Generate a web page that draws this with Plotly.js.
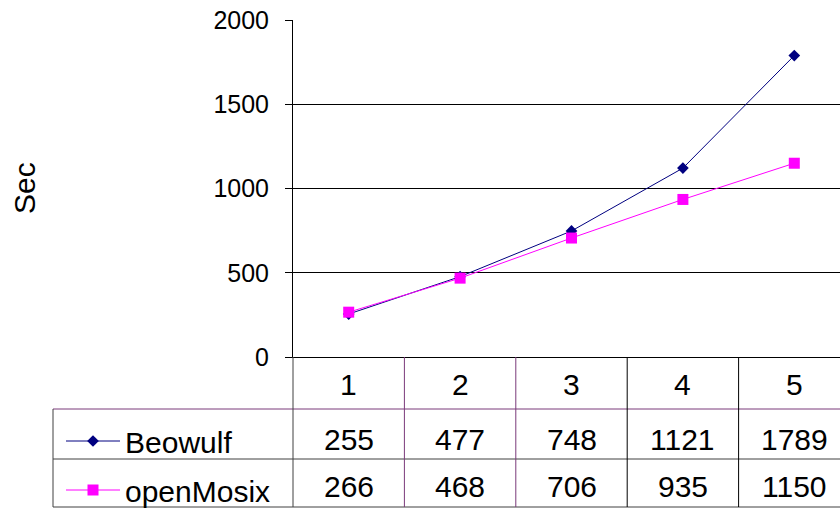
<!DOCTYPE html>
<html><head><meta charset="utf-8">
<script src="https://cdn.plot.ly/plotly-3.0.1.min.js"></script>
<style>html,body{margin:0;padding:0;background:#fff}</style>
</head><body><div id="chart" style="width:840px;height:510px"></div>
<script>
const categories = ['1','2','3','4','5'];
const seriesNames = ['Beowulf','openMosix'];
const beowulf = [255,477,748,1121,1789];
const openMosix = [266,468,706,935,1150];
const yTicks = [0,500,1000,1500,2000];
const yTitle = 'Sec';

const FONT = 'Arial, "Liberation Sans", sans-serif';
const L = 293, T = 20, W = 547, H = 337;
const py = p => (T + H - p) / H;
const pxp = p => (p - L) / W;
const xs = categories.map((c, i) => i + 1);

const traces = [
  {x: xs, y: beowulf, name: seriesNames[0], type: 'scatter', mode: 'lines+markers',
   legendgroup: 'a',
   line: {color: '#000080', width: 1}, marker: {symbol: 'diamond', size: 9, color: '#000080'}},
  {x: xs, y: openMosix, name: seriesNames[1], type: 'scatter', mode: 'lines+markers',
   legendgroup: 'b',
   line: {color: '#FF00FF', width: 1}, marker: {symbol: 'square', size: 11, color: '#FF00FF'}}
];

const purple = '#7a3a7a', grey = '#404040', black = '#000000';
const shapes = [];
const hline = (p, c) => shapes.push({type: 'line', xref: 'paper', yref: 'paper', x0: pxp(53), x1: 1, y0: py(p), y1: py(p), line: {color: c, width: 1}});
hline(409, purple); hline(459, grey); hline(507, grey);
shapes.push({type: 'line', xref: 'paper', yref: 'paper', x0: pxp(53), x1: pxp(53), y0: py(409), y1: py(507), line: {color: grey, width: 1}});
shapes.push({type: 'line', xref: 'paper', yref: 'paper', x0: 0, x1: 0, y0: 0, y1: py(507), line: {color: grey, width: 1}});
xs.slice(0, -1).forEach((x, i) => {
  shapes.push({type: 'line', xref: 'x', yref: 'paper', x0: x + 0.5, x1: x + 0.5, y0: 0, y1: py(507),
    line: {color: i < 2 ? purple : black, width: 1}});
});

const annotations = [];
const cell = (x, y, text) => ({x: x, y: y, xref: 'x', yref: 'paper', xanchor: 'center', yanchor: 'middle', text: text,
  showarrow: false, font: {family: FONT, size: 30, color: '#000'}});
categories.forEach((c, i) => {
  annotations.push(cell(xs[i], py(384), c));
  annotations.push(cell(xs[i], py(439), String(beowulf[i])));
  annotations.push(cell(xs[i], py(486), String(openMosix[i])));
});
annotations.push({x: pxp(24), y: py(188), xref: 'paper', yref: 'paper', xanchor: 'center', yanchor: 'middle',
  text: yTitle, textangle: -90, showarrow: false, font: {family: FONT, size: 30, color: '#000'}});

const layout = {
  width: 840, height: 510,
  margin: {l: L, r: 0, t: T, b: 510 - T - H, pad: 0, autoexpand: false},
  paper_bgcolor: '#fff', plot_bgcolor: '#fff',
  font: {family: FONT, color: '#000'},
  showlegend: true,
  legend: {x: pxp(61), y: py(415), xanchor: 'left', yanchor: 'top', font: {family: FONT, size: 30, color: '#000'},
           bgcolor: 'rgba(0,0,0,0)', tracegroupgap: 7, itemwidth: 54},
  xaxis: {range: [0.5, 0.5 + W / 111.4], showgrid: false, zeroline: false, showticklabels: false,
          showline: true, linecolor: '#000', linewidth: 1, ticks: '', fixedrange: true},
  yaxis: {range: [0, 2000], tickvals: yTicks, ticktext: yTicks.map(String), showgrid: true, gridcolor: '#000', gridwidth: 1,
          zeroline: false, showline: true, linecolor: '#000', linewidth: 1, ticks: 'outside', ticklen: 7, tickcolor: '#000',
          tickfont: {family: FONT, size: 25, color: '#000'}, ticklabelstandoff: 11, fixedrange: true},
  shapes: shapes,
  annotations: annotations
};
Plotly.newPlot('chart', traces, layout, {staticPlot: true, displayModeBar: false});
</script></body></html>
